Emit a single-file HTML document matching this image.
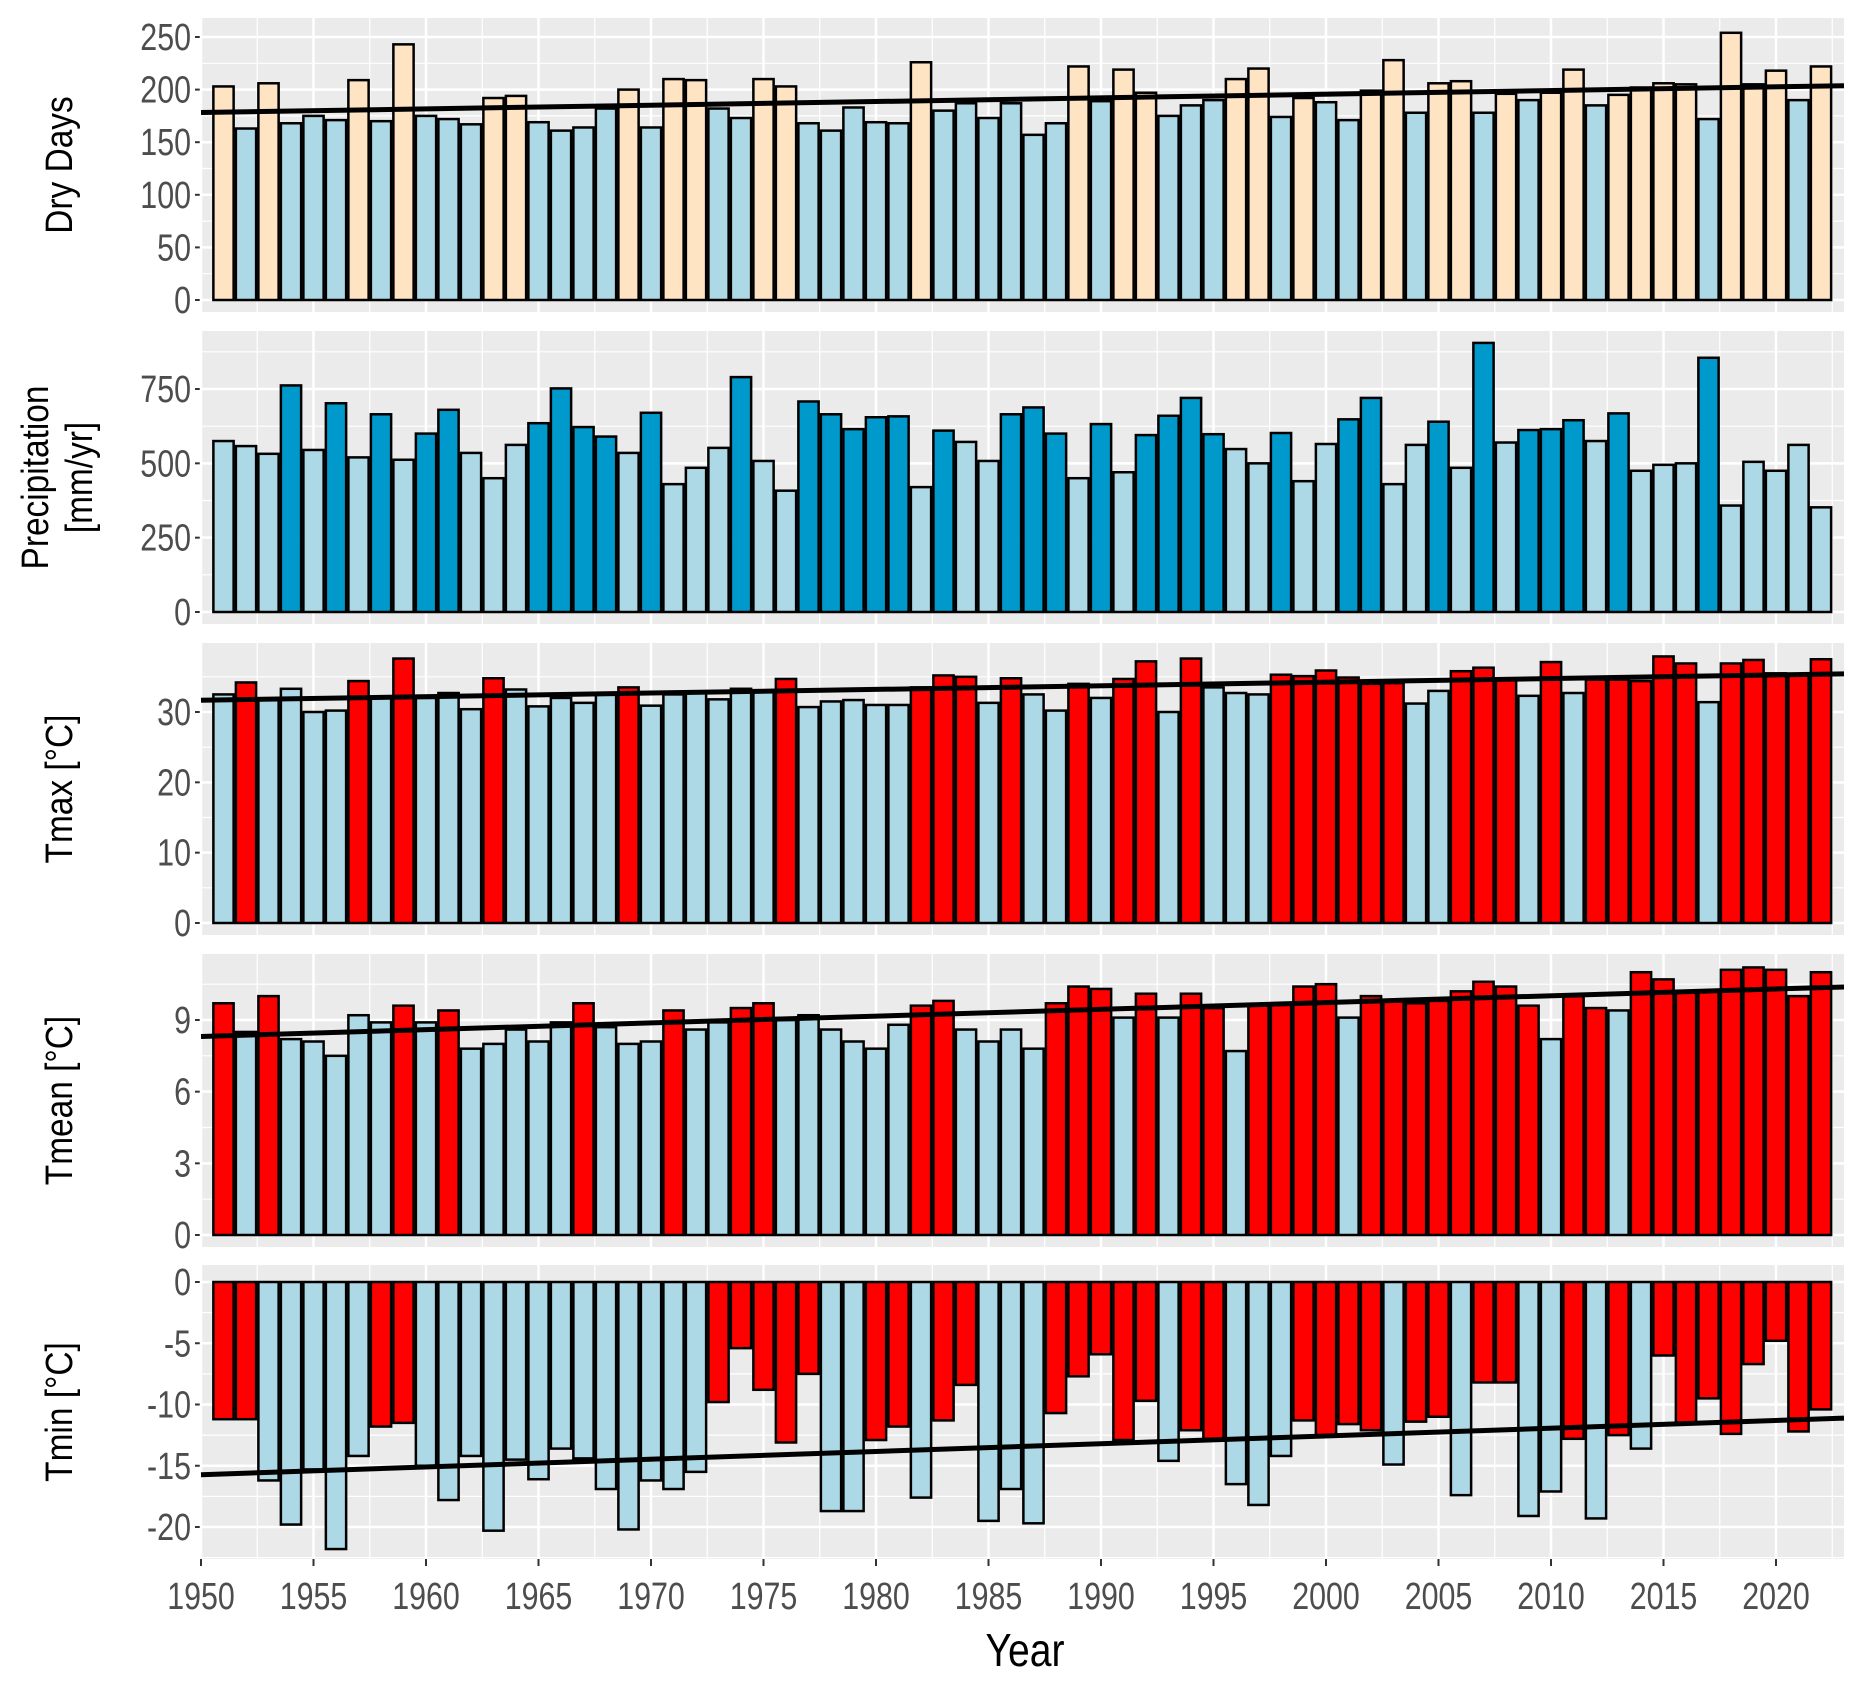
<!DOCTYPE html>
<html><head><meta charset="utf-8"><style>
body{margin:0;background:#fff}
svg{display:block;font-family:"Liberation Sans",sans-serif}
</style></head><body>
<svg id="chart" width="1862" height="1683" viewBox="0 0 1862 1683" xmlns="http://www.w3.org/2000/svg"></svg>
<script>
const years = [];
for (let y = 1951; y <= 2022; y++) years.push(y);
const xTicks = [1950,1955,1960,1965,1970,1975,1980,1985,1990,1995,2000,2005,2010,2015,2020];

const dryDays = [203,163,206,168,175,171,209,170,243,175,172,167,192,194,169,161,164,182,200,164,210,209,182,173,210,203,168,161,183,169,168,226,180,187,173,187,157,168,222,189,219,197,175,185,190,210,220,174,192,188,171,199,228,178,206,208,178,196,190,197,219,185,195,202,206,205,172,254,205,218,190,222];
const dryFlag = [1,0,1,0,0,0,1,0,1,0,0,0,1,1,0,0,0,0,1,0,1,1,0,0,1,1,0,0,0,0,0,1,0,0,0,0,0,0,1,0,1,1,0,0,0,1,1,0,1,0,0,1,1,0,1,1,0,1,0,1,1,0,1,1,1,1,0,1,1,1,0,1];
const precip = [575,558,532,762,545,702,520,665,512,600,680,535,450,562,635,752,622,590,535,670,430,485,552,790,508,408,708,665,615,655,658,420,610,572,508,665,688,600,450,632,470,595,660,720,598,548,500,602,440,565,648,720,430,562,640,485,905,570,612,615,645,575,668,475,495,500,855,358,505,475,562,352];
const precipFlag = [0,0,0,1,0,1,0,1,0,1,1,0,0,0,1,1,1,1,0,1,0,0,0,1,0,0,1,1,1,1,1,0,1,0,0,1,1,1,0,1,0,1,1,1,1,0,0,1,0,0,1,1,0,0,1,0,1,0,1,1,1,0,1,0,0,0,1,0,0,0,0,0];
const tmax = [32.5,34.2,31.8,33.3,30.0,30.2,34.4,32.0,37.6,32.0,32.7,30.4,34.8,33.2,30.8,32.0,31.3,32.5,33.5,30.9,32.5,32.7,31.8,33.3,32.9,34.7,30.7,31.5,31.7,31.0,31.0,33.5,35.2,35.0,31.3,34.8,32.5,30.2,34.0,32.0,34.7,37.2,30.0,37.6,33.5,32.7,32.5,35.3,35.1,35.9,34.9,34.0,34.1,31.2,33.0,35.8,36.3,34.8,32.3,37.1,32.7,34.6,34.6,34.4,37.9,36.9,31.4,36.9,37.4,35.5,35.2,37.5];
const tmaxFlag = [0,1,0,0,0,0,1,0,1,0,0,0,1,0,0,0,0,0,1,0,0,0,0,0,0,1,0,0,0,0,0,1,1,1,0,1,0,0,1,0,1,1,0,1,0,0,0,1,1,1,1,1,1,0,0,1,1,1,0,1,0,1,1,1,1,1,0,1,1,1,1,1];
const tmean = [9.7,8.5,10.0,8.2,8.1,7.5,9.2,8.9,9.6,8.9,9.4,7.8,8.0,8.6,8.1,8.9,9.7,8.7,8.0,8.1,9.4,8.6,8.9,9.5,9.7,9.0,9.2,8.6,8.1,7.8,8.8,9.6,9.8,8.6,8.1,8.6,7.8,9.7,10.4,10.3,9.1,10.1,9.1,10.1,9.5,7.7,9.6,9.7,10.4,10.5,9.1,10.0,9.8,9.7,9.8,10.2,10.6,10.4,9.6,8.2,10.0,9.5,9.4,11.0,10.7,10.2,10.2,11.1,11.2,11.1,10.0,11.0];
const tmeanFlag = [1,0,1,0,0,0,0,0,1,0,1,0,0,0,0,0,1,0,0,0,1,0,0,1,1,0,0,0,0,0,0,1,1,0,0,0,0,1,1,1,0,1,0,1,1,0,1,1,1,1,0,1,1,1,1,1,1,1,1,0,1,1,0,1,1,1,1,1,1,1,1,1];
const tmin = [-11.2,-11.2,-16.2,-19.8,-15.3,-21.8,-14.2,-11.8,-11.5,-15.0,-17.8,-14.2,-20.3,-14.5,-16.1,-13.6,-14.4,-16.9,-20.2,-16.2,-16.9,-15.5,-9.8,-5.4,-8.8,-13.1,-7.5,-18.7,-18.7,-12.9,-11.8,-17.6,-11.3,-8.4,-19.5,-16.9,-19.7,-10.7,-7.7,-5.9,-12.9,-9.7,-14.6,-12.1,-12.8,-16.5,-18.2,-14.2,-11.3,-12.6,-11.6,-12.1,-14.9,-11.4,-11.0,-17.4,-8.2,-8.2,-19.1,-17.1,-12.8,-19.3,-12.5,-13.6,-6.0,-11.5,-9.5,-12.4,-6.7,-4.8,-12.2,-10.4];
const tminFlag = [1,1,0,0,0,0,0,1,1,0,0,0,0,0,0,0,0,0,0,0,0,0,1,1,1,1,1,0,0,1,1,0,1,1,0,0,0,1,1,1,1,1,0,1,1,0,0,0,1,1,1,1,0,1,1,0,1,1,0,0,1,0,1,0,1,1,1,1,1,1,1,1];

const dryTicks = [0,50,100,150,200,250];
const precipTicks = [0,250,500,750];
const tmaxTicks = [0,10,20,30];
const tmeanTicks = [0,3,6,9];
const tminTicks = [-20,-15,-10,-5,0];

const NS = "http://www.w3.org/2000/svg";
const svg = document.getElementById("chart");
function mk(tag, attrs, parent){const e=document.createElementNS(NS,tag);for(const k in attrs)e.setAttribute(k,attrs[k]);(parent||svg).appendChild(e);return e;}

const PL = 202, PR = 1844;
const x = yr => 201 + 22.5*(yr-1950);
const BW = 0.9*22.5;
const SX = 0.8;

const panels = [
 {name:"dry-days", data:dryDays, flag:dryFlag, ticks:dryTicks, top:18, bot:312, y0:300, ref:250, yref:37, cols:["#add8e6","#ffe4c4"], trend:true, title:["Dry Days"]},
 {name:"precipitation", data:precip, flag:precipFlag, ticks:precipTicks, top:331, bot:624, y0:612, ref:750, yref:389, cols:["#add8e6","#0099cc"], trend:false, title:["Precipitation","[mm/yr]"]},
 {name:"tmax", data:tmax, flag:tmaxFlag, ticks:tmaxTicks, top:643, bot:935, y0:923, ref:30, yref:712, cols:["#add8e6","#ff0000"], trend:true, title:["Tmax [°C]"]},
 {name:"tmean", data:tmean, flag:tmeanFlag, ticks:tmeanTicks, top:954, bot:1247, y0:1235, ref:9, yref:1020, cols:["#add8e6","#ff0000"], trend:true, title:["Tmean [°C]"]},
 {name:"tmin", data:tmin, flag:tminFlag, ticks:tminTicks, top:1265, bot:1559, y0:1282, ref:-20, yref:1527, cols:["#add8e6","#ff0000"], trend:true, title:["Tmin [°C]"]}
];

panels.forEach((p,pi)=>{
  const k = (p.yref-p.y0)/p.ref;
  const y = v => p.y0 + k*v;
  const g = mk("g",{});
  
  
  const bg = mk("rect",{x:PL,y:p.top,width:PR-PL,height:p.bot-p.top,fill:"#ebebeb"},g);
  
  
  const lo = Math.min(...p.ticks), hi = Math.max(...p.ticks), st = p.ticks[1]-p.ticks[0];
  for (let v = lo - st/2; v <= hi + st; v += st){
    const yy = y(v); if (yy < p.top || yy > p.bot) continue;
    mk("line",{x1:PL,x2:PR,y1:yy,y2:yy,stroke:"#fff","stroke-width":1.2},g);
  }
  for (let yr = 1947.5; yr < 2026; yr += 5){
    const xx = x(yr); if (xx < PL || xx > PR) continue;
    mk("line",{x1:xx,x2:xx,y1:p.top,y2:p.bot,stroke:"#fff","stroke-width":1.2},g);
  }
  p.ticks.forEach(v=>{
    const yy=y(v);
    mk("line",{x1:PL,x2:PR,y1:yy,y2:yy,stroke:"#fff","stroke-width":2.5},g);
    mk("line",{x1:PL-7,x2:PL,y1:yy,y2:yy,stroke:"#333","stroke-width":2},g);
    const t = mk("text",{x:0,y:0,"text-anchor":"end","font-size":38,fill:"#4d4d4d",transform:`translate(${PL-11},${yy+13}) scale(${SX},1)`},g);
    t.textContent = v;
    
    
  });
  xTicks.forEach(yr=>{
    const xx=x(yr);
    mk("line",{x1:xx,x2:xx,y1:p.top,y2:p.bot,stroke:"#fff","stroke-width":2.5},g);
    if (pi===panels.length-1) mk("line",{x1:xx,x2:xx,y1:p.bot,y2:p.bot+7,stroke:"#333","stroke-width":2},g);
  });
  p.data.forEach((v,i)=>{
    const y1 = y(Math.max(v,0)), y2 = y(Math.min(v,0));
    const r = mk("rect",{x:x(years[i])-BW/2,y:y1,width:BW,height:y2-y1,fill:p.cols[p.flag[i]],stroke:"#000","stroke-width":2.5},g);
    
    
  });
  if (p.trend){
    const n=years.length; let sx=0,sy=0,sxx=0,sxy=0;
    years.forEach((yr,i)=>{sx+=yr;sy+=p.data[i];sxx+=yr*yr;sxy+=yr*p.data[i];});
    const b=(n*sxy-sx*sy)/(n*sxx-sx*sx), a=(sy-b*sx)/n;
    const x0=1950, x1=2023;
    const l = mk("line",{x1:x(x0),x2:PR,y1:y(a+b*x0),y2:y(a+b*x1),stroke:"#000","stroke-width":5},g);
    
    
  }
  const cy=(p.top+p.bot)/2;
  p.title.forEach((tt,j)=>{
    const cx = p.title.length===1 ? 60 : (j===0?36:80);
    const t = mk("text",{x:0,y:0,"text-anchor":"middle","font-size":38,fill:"#000",transform:`translate(${cx+12},${cy}) rotate(-90) scale(0.88,1)`},g);
    t.textContent = tt;
    
    
  });
});

xTicks.forEach(yr=>{
  const t = mk("text",{x:0,y:0,"text-anchor":"middle","font-size":38,fill:"#4d4d4d",transform:`translate(${x(yr)},${1609}) scale(${SX},1)`});
  t.textContent = yr;
  
  
});
const xt = mk("text",{x:0,y:0,"text-anchor":"middle","font-size":46,fill:"#000",transform:"translate(1025,1666) scale(0.85,1)"});
xt.textContent = "Year";


</script>
</body></html>
